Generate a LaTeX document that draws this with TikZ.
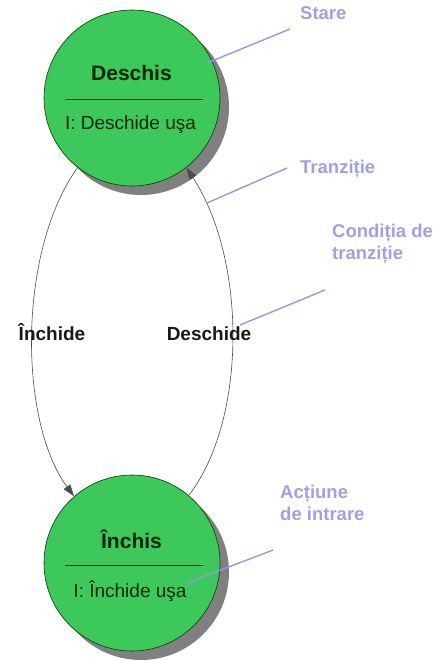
\documentclass[tikz,border=0pt]{standalone}
\usepackage{fontspec}
\setmainfont{Liberation Sans}
\usetikzlibrary{arrows.meta,shadows}
\definecolor{stgreen}{RGB}{60,200,90}
\definecolor{shgray}{RGB}{128,128,128}
\definecolor{notetext}{RGB}{160,160,232}
\definecolor{noteline}{RGB}{150,150,240}
\tikzset{
  statecirc/.style={circle, minimum size=176pt, inner sep=0pt, fill=stgreen, draw=black!75!green, line width=0.6pt,
    drop shadow={shadow xshift=9pt, shadow yshift=-9pt, fill=shgray, opacity=1}},
  titletext/.style={anchor=base, font=\fontsize{21}{24}\selectfont\bfseries, text=black!85!green, inner sep=0pt},
  entrytext/.style={anchor=base, font=\fontsize{19}{22}\selectfont, text=black!85!green, inner sep=0pt},
  translabel/.style={anchor=base, font=\fontsize{19}{22}\selectfont\bfseries, text=black!90, inner sep=0pt},
  notelabel/.style={anchor=base west, align=left, font=\fontsize{18.5}{22}\selectfont\bfseries, text=notetext, inner sep=0pt},
  noteconn/.style={draw=noteline, line width=1.4pt},
  transarrow/.style={draw=black!70, line width=0.6pt, -{Triangle[length=12pt,width=8pt]}},
  sepline/.style={draw=black!85!green, line width=0.8pt}
}
\begin{document}
\begin{tikzpicture}[x=1pt,y=-1pt]
\useasboundingbox (0,0) rectangle (441,661);
% states
\node[statecirc] (top) at (132,98) {};
\node[statecirc] (bot) at (132,563) {};
\node[titletext] (toptitle) at (131.5,81) {Deschis};
\node[entrytext] (topentry) at (130.5,129) {I: Deschide uşa};
\draw[sepline] (65,99) -- (203,99);
\node[titletext] (bottitle) at (131.5,548) {Închis};
\node[entrytext] (botentry) at (130,597) {I: Închide uşa};
\draw[sepline] (65,565) -- (203,565);
% transitions
\draw[transarrow] (top.232) .. controls (18,250) and (18,420) .. (bot.131);
\draw[transarrow] (bot.50) .. controls (247,420) and (247,260) .. (top.308);
\node[translabel] (lclose) at (52,340) {Închide};
\node[translabel] (lopen) at (209,340) {Deschide};
% notes
\node[notelabel] (nstare) at (300,20) {Stare};
\node[notelabel] (ntranz) at (300,173) {Tranziție};
\node[notelabel] (ncond) at (332,259) {Condiția de\\tranziție};
\node[notelabel] (nact) at (280,520) {Acțiune\\de intrare};
\coordinate (s1) at (290,29); \coordinate (s2) at (207,63);
\coordinate (t1) at (287,168); \coordinate (t2) at (207,203);
\coordinate (c1) at (325,290); \coordinate (c2) at (240,325);
\coordinate (a1) at (273,550); \coordinate (a2) at (187,583);
\draw[noteconn] (s1) -- (s2);
\draw[noteconn] (t1) -- (t2);
\draw[noteconn] (c1) -- (c2);
\draw[noteconn] (a1) -- (a2);
\end{tikzpicture}
\end{document}
